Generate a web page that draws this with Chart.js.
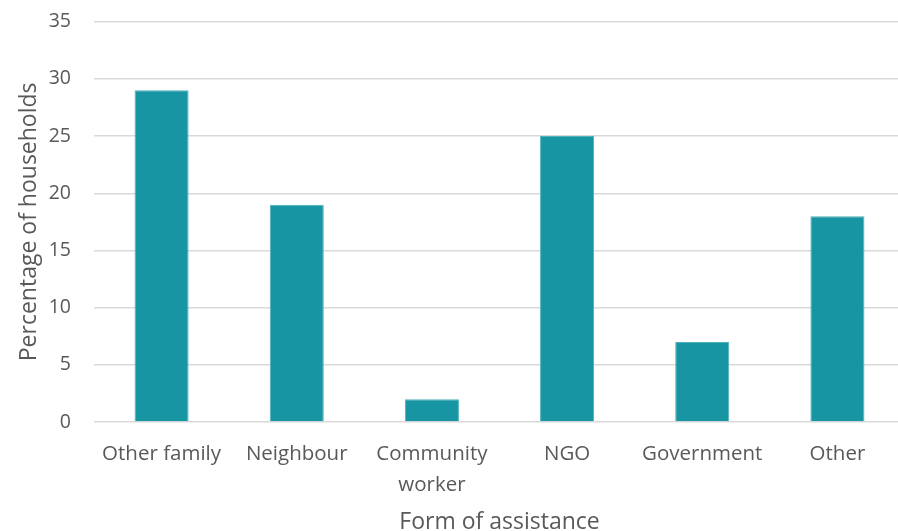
<!DOCTYPE html>
<html>
<head>
<meta charset="utf-8">
<script src="https://cdn.jsdelivr.net/npm/chart.js@4/dist/chart.umd.min.js"></script>
<style>
    html, body { margin: 0; padding: 0; background: #fff; overflow: hidden; }
    .chart_wrap { width: 912px; height: 544px; margin-top: -13px; position: relative; }
</style>
</head>
<body>
<div class="chart_wrap"><canvas id="myChart"></canvas></div>
<script>
// Data
const categories = ["Other family", "Neighbour", ["Community", "worker"], "NGO", "Government", "Other"];
const households = [29, 19, 2, 25, 7, 18];
const yTicks = [0, 5, 10, 15, 20, 25, 30, 35];

const textColor = "#595959";
const fontFamily = "'Open Sans', sans-serif";

const ctx = document.getElementById("myChart").getContext("2d");

new Chart(ctx, {
    type: "bar",
    data: {
        labels: categories,
        datasets: [{
            label: "Percentage of households",
            data: households,
            backgroundColor: "#1795A3",
            borderColor: "#4fb0bb",
            borderWidth: 1,
            barPercentage: 0.4,
            categoryPercentage: 1
        }]
    },
    options: {
        responsive: true,
        maintainAspectRatio: false,
        animation: false,
        layout: { padding: { top: 10, right: 7, bottom: 0, left: 0 } },
        plugins: {
            legend: { display: false },
            tooltip: { enabled: false }
        },
        scales: {
            x: {
                grid: { display: false },
                border: { display: false },
                ticks: {
                    color: textColor,
                    font: { family: fontFamily, size: 20.5, lineHeight: 1.5 },
                    padding: 9,
                    maxRotation: 0,
                    autoSkip: false
                },
                title: {
                    display: true,
                    text: "Form of assistance",
                    color: textColor,
                    font: { family: fontFamily, size: 23 },
                    padding: { top: 6, bottom: -5 }
                },
                afterFit: (scale) => { scale.height = 109; }
            },
            y: {
                min: 0,
                max: 35,
                afterBuildTicks: (scale) => {
                    scale.ticks = yTicks.map(v => ({ value: v }));
                },
                grid: {
                    color: "#d9d9d9",
                    lineWidth: 1.4,
                    drawTicks: false
                },
                border: { display: false },
                ticks: {
                    color: textColor,
                    font: { family: fontFamily, size: 19.5 },
                    padding: 23
                },
                title: {
                    display: true,
                    text: "Percentage of households",
                    color: textColor,
                    font: { family: fontFamily, size: 23 },
                    padding: { top: 16, bottom: 0 }
                },
                afterFit: (scale) => { scale.width = 94; }
            }
        }
    }
});
</script>
</body>
</html>
